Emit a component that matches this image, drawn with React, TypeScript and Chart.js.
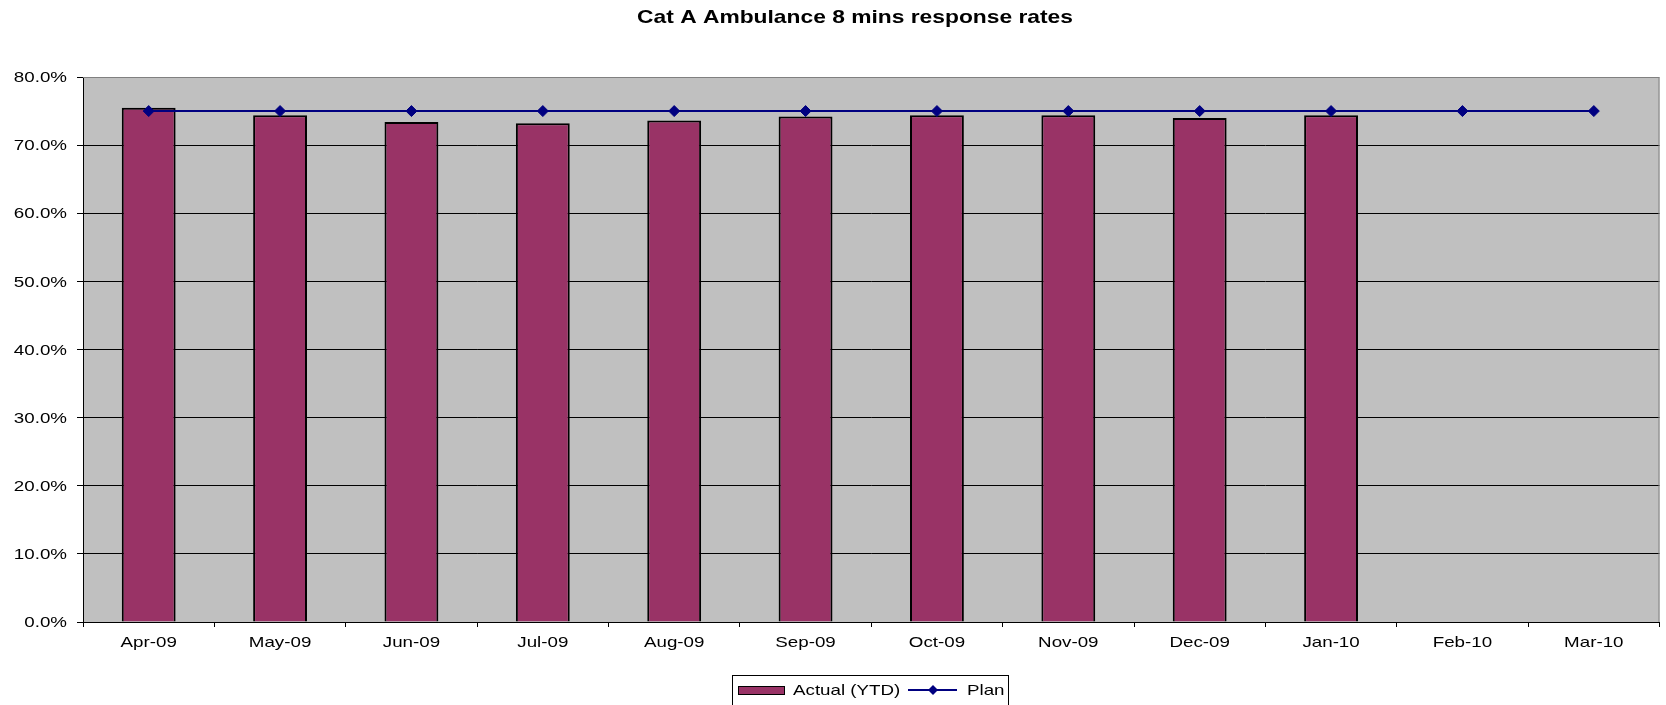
import React, { useEffect, useRef } from "react";
import { Chart, registerables } from "chart.js";

Chart.register(...registerables);

// Monthly categories for the 2009/10 reporting year
const months = [
  "Apr-09", "May-09", "Jun-09", "Jul-09", "Aug-09", "Sep-09",
  "Oct-09", "Nov-09", "Dec-09", "Jan-10", "Feb-10", "Mar-10",
];

// Year-to-date share of Cat A calls reached within 8 minutes (%)
const actualYtd = [75.5, 74.4, 73.4, 73.2, 73.6, 74.2, 74.4, 74.4, 74.0, 74.4, null, null];

// Planned standard (%)
const plan = [75, 75, 75, 75, 75, 75, 75, 75, 75, 75, 75, 75];

// Value axis ticks (%)
const yTicks = [0, 10, 20, 30, 40, 50, 60, 70, 80];

const TITLE = "Cat A Ambulance 8 mins response rates";
const FONT = '"Liberation Sans", Arial, sans-serif';
const BAR_COLOR = "#993366";
const LINE_COLOR = "#000080";
const PLOT_BG = "#C0C0C0";
const SX = 1.25; // horizontal text stretch used by the sheet's rendering

function stretchedText(
  ctx: CanvasRenderingContext2D,
  text: string,
  x: number,
  y: number,
  align: CanvasTextAlign,
  sx: number
) {
  ctx.save();
  ctx.translate(x, y);
  ctx.scale(sx, 1);
  ctx.textAlign = align;
  ctx.fillText(text, 0, 0);
  ctx.restore();
}

function diamond(ctx: CanvasRenderingContext2D, x: number, y: number, r: number) {
  ctx.beginPath();
  ctx.moveTo(x, y - r);
  ctx.lineTo(x + r, y);
  ctx.lineTo(x, y + r);
  ctx.lineTo(x - r, y);
  ctx.closePath();
  ctx.fill();
}

const plotBackground = {
  id: "plotBackground",
  beforeDraw(chart: any) {
    const { ctx, chartArea } = chart;
    ctx.save();
    ctx.fillStyle = PLOT_BG;
    ctx.fillRect(chartArea.left, chartArea.top, chartArea.right - chartArea.left, chartArea.bottom - chartArea.top);
    ctx.restore();
  },
  beforeDatasetsDraw(chart: any) {
    const { ctx, chartArea } = chart;
    ctx.save();
    ctx.strokeStyle = "#808080";
    ctx.lineWidth = 1;
    ctx.beginPath();
    ctx.moveTo(chartArea.left, chartArea.top + 0.5);
    ctx.lineTo(chartArea.right - 0.5, chartArea.top + 0.5);
    ctx.lineTo(chartArea.right - 0.5, chartArea.bottom);
    ctx.stroke();
    ctx.restore();
  },
};

const textLayer = {
  id: "textLayer",
  afterDraw(chart: any) {
    const { ctx } = chart;
    const xs = chart.scales.x;
    const ys = chart.scales.y;
    ctx.save();
    ctx.fillStyle = "#000";

    // Title
    ctx.font = `bold 19px ${FONT}`;
    ctx.textBaseline = "alphabetic";
    stretchedText(ctx, TITLE, 855, 23, "center", 1.2);

    // Value axis labels
    ctx.font = `15px ${FONT}`;
    ctx.textBaseline = "middle";
    yTicks.forEach((v) => {
      stretchedText(ctx, `${v.toFixed(1)}%`, ys.left + 67, ys.getPixelForValue(v) + 1, "right", SX);
    });

    // Category labels
    months.forEach((m, i) => {
      stretchedText(ctx, m, xs.getPixelForValue(i), xs.top + 21, "center", SX);
    });

    // Legend
    const lx = 732.5;
    const ly = 675.5;
    ctx.strokeStyle = "#000";
    ctx.lineWidth = 1;
    ctx.strokeRect(lx, ly, 276, 40);
    ctx.fillStyle = BAR_COLOR;
    ctx.fillRect(738.5, 686.5, 46, 8);
    ctx.strokeRect(738.5, 686.5, 46, 8);
    ctx.fillStyle = "#000";
    ctx.textBaseline = "middle";
    stretchedText(ctx, "Actual (YTD)", 793, 691, "left", SX);
    ctx.strokeStyle = LINE_COLOR;
    ctx.lineWidth = 2;
    ctx.beginPath();
    ctx.moveTo(908, 690);
    ctx.lineTo(957, 690);
    ctx.stroke();
    ctx.fillStyle = LINE_COLOR;
    diamond(ctx, 933, 690, 5);
    ctx.fillStyle = "#000";
    stretchedText(ctx, "Plan", 967, 691, "left", SX);
    ctx.restore();
  },
};

export default function App() {
  const canvasRef = useRef<HTMLCanvasElement | null>(null);

  useEffect(() => {
    if (!canvasRef.current) return;
    const chart = new Chart(canvasRef.current, {
      type: "bar",
      data: {
        labels: months,
        datasets: [
          {
            type: "line",
            label: "Plan",
            data: plan,
            order: 0,
            borderColor: LINE_COLOR,
            borderWidth: 2,
            backgroundColor: LINE_COLOR,
            pointStyle: "rectRot",
            pointRadius: 5.5,
            pointBackgroundColor: LINE_COLOR,
            pointBorderColor: LINE_COLOR,
            pointBorderWidth: 1,
            tension: 0,
          } as any,
          {
            type: "bar",
            label: "Actual (YTD)",
            data: actualYtd,
            order: 1,
            backgroundColor: BAR_COLOR,
            borderColor: "#000",
            borderWidth: 2,
            borderSkipped: "bottom",
            barPercentage: 0.41,
            categoryPercentage: 1.0,
          } as any,
        ],
      },
      options: {
        animation: false,
        responsive: true,
        maintainAspectRatio: false,
        layout: { padding: { top: 77, right: 5, bottom: 0, left: 0 } },
        plugins: {
          legend: { display: false },
          title: { display: false },
          tooltip: { enabled: false },
        },
        scales: {
          x: {
            type: "category",
            offset: true,
            ticks: { display: false },
            grid: {
              offset: true,
              drawOnChartArea: false,
              drawTicks: true,
              tickLength: 5,
              color: "#000",
            },
            border: { display: true, color: "#000", width: 1 },
            afterFit(scale: any) {
              scale.height = 83;
            },
          },
          y: {
            min: 0,
            max: 80,
            ticks: { display: false, stepSize: 10 },
            grid: {
              color: (c: any) => (c.tick && c.tick.value === 80 ? "#808080" : "#000"),
              tickColor: "#000",
              tickLength: 6,
              drawTicks: true,
            },
            border: { display: true, color: "#000", width: 1 },
            afterFit(scale: any) {
              scale.width = 83;
            },
          },
        },
      },
      plugins: [plotBackground, textLayer],
    });
    return () => chart.destroy();
  }, []);

  return (
    <div style={{ position: "fixed", left: 0, top: 0, width: 1666, height: 705, background: "#fff" }}>
      <canvas ref={canvasRef} />
    </div>
  );
}
